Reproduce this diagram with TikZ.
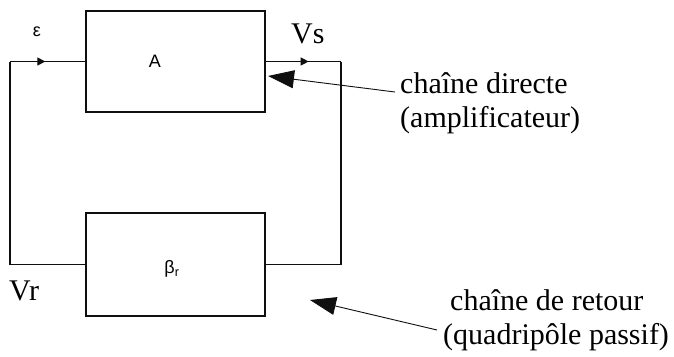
\documentclass[tikz,border=0pt]{standalone}
\usepackage{fontspec}
\setmainfont{Liberation Serif}
\newfontfamily\labelsans{Liberation Sans}
\usepackage{xcolor}
\definecolor{wireblack}{RGB}{15, 15, 15}
\definecolor{textblack}{RGB}{0, 0, 0}
\usetikzlibrary{
  arrows.meta,
  positioning,
  decorations.markings
}

\begin{document}
\begin{tikzpicture}[x=1pt, y=-1pt,
    block/.style={draw=wireblack, line width=1.6pt, minimum width=179pt, minimum height=101pt, inner sep=0pt},
    wire/.style={draw=wireblack, line width=1.2pt},
    flowmark/.style={postaction={decorate}, decoration={markings,
      mark=at position #1 with {\arrow{Triangle[length=8pt, width=8pt]}}}},
    pointer/.style={draw=wireblack, line width=0.9pt, -{Triangle[length=26pt, width=18pt]}},
    bigtext/.style={font=\fontsize{30}{33.5}\selectfont, text=textblack, inner sep=0pt, align=left},
    smalltext/.style={font=\labelsans\fontsize{18}{20}\selectfont, text=textblack, inner sep=0pt}]

  \useasboundingbox (0,0) rectangle (674,356);

  % ---------- blocks ----------
  \node[block] (ampli) at (175.5, 61.5) {};
  \node[block, minimum height=103pt] (retour) at (175.5, 264.5) {};

  \node[smalltext] (alabel) at (155, 61) {A};
  \node[smalltext] (blabel) at (172, 269) {β\textsubscript{r}};

  % loop corners
  \coordinate (ul) at (10, 61.5);
  \coordinate (ur) at (341, 61.5);
  \coordinate (ll) at (10, 264.5);
  \coordinate (lr) at (341, 264.5);

  % ---------- loop wiring ----------
  \draw[wire] (retour.west) -- (ll) -- (ul);
  \draw[wire, flowmark=0.47] (ul) -- (ampli.west);
  \draw[wire, flowmark=0.57] (ampli.east) -- (ur);
  \draw[wire] (ur) -- (lr) -- (retour.east);

  % signal names
  \node[smalltext] (eps) at (37, 32) {ε};
  \node[bigtext, anchor=base west] (vs) at (291, 43) {Vs};
  \node[bigtext, anchor=base west] (vr) at (9, 300) {Vr};

  % ---------- annotations ----------
  \node[bigtext, anchor=base west] (directe) at (400, 127) {chaîne directe\\(amplificateur)};
  \node[bigtext, anchor=base west] (retourtxt) at (443, 344) {\hspace{7pt}chaîne de retour\\(quadripôle passif)};

  \coordinate (dtip) at (268, 76);
  \coordinate (rtip) at (310, 300);
  \draw[pointer] ([shift={(-5,-35)}]directe.base west) -- (dtip);
  \draw[pointer] ([shift={(-6,-14)}]retourtxt.base west) -- (rtip);

\end{tikzpicture}
\end{document}
